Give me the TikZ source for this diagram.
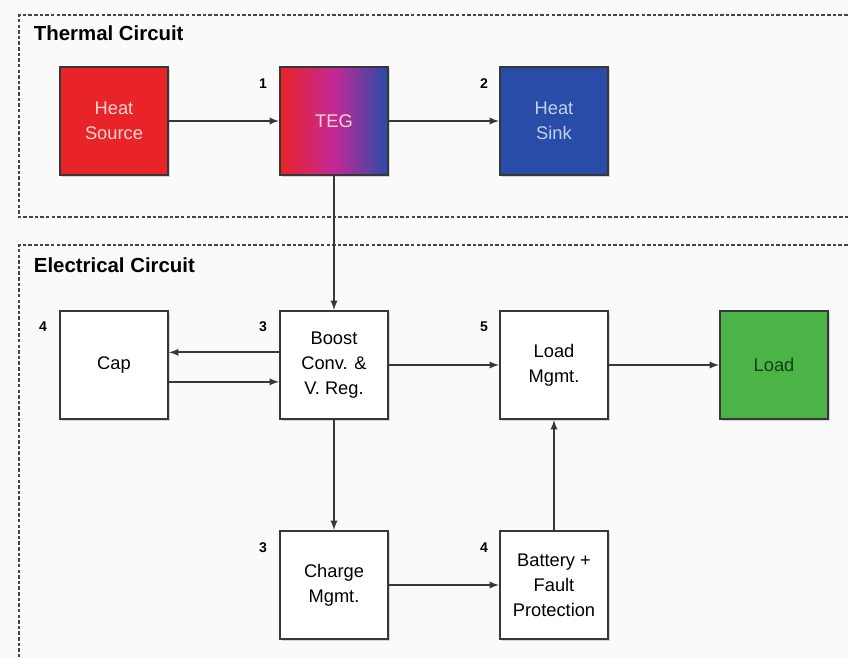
\documentclass[tikz,border=0pt]{standalone}
\usepackage{fontspec}
\setmainfont{Liberation Sans}
\usetikzlibrary{calc,shadows}
\definecolor{hotred}{RGB}{232,36,40}
\definecolor{hottext}{RGB}{255,214,210}
\definecolor{coldblue}{RGB}{40,76,168}
\definecolor{coldtext}{RGB}{196,208,240}
\definecolor{tegmag}{RGB}{196,40,150}
\definecolor{loadgreen}{RGB}{76,180,70}
\definecolor{loadtext}{RGB}{16,64,20}
\definecolor{edgegray}{RGB}{55,55,55}
\definecolor{framegray}{RGB}{70,70,70}

\begin{document}
\begin{tikzpicture}[x=0.025cm,y=-0.025cm,
  blk/.style={draw=edgegray, line width=1.4pt, fill=white, minimum width=2.7cm, minimum height=2.7cm, inner sep=0pt, align=center, font=\fontsize{13}{17.7}\selectfont, drop shadow={shadow xshift=1.5pt, shadow yshift=-1.5pt, opacity=0.3}},
  arr/.style={draw=edgegray, line width=1.3pt, -latex},
  num/.style={font=\bfseries\fontsize{10}{12}\selectfont},
  ttl/.style={anchor=west, font=\bfseries\fontsize{14.5}{16}\selectfont},
  frm/.style={draw=framegray, line width=0.9pt, dash pattern=on 2.5pt off 1.5pt}]
\useasboundingbox[fill=black!2] (0,0) rectangle (848,658);
%----------------frames----------
\draw[frm] (870,15) -| (19,217) -- (870,217);
\draw[frm] (870,245) -| (19,680);
\node[ttl] (thermal) at (29,33) {Thermal Circuit};
\node[ttl] (electrical) at (29,265) {Electrical Circuit};
%----------------thermal----------
\node[blk, fill=hotred, text=hottext] (src) at (114,121) {Heat\\Source};
\node[blk, left color=hotred, right color=coldblue, middle color=tegmag, text=hottext] (teg) at (334,121) {TEG};
\node[blk, fill=coldblue, text=coldtext] (sink) at (554,121) {Heat\\Sink};
\node[num] (n1) at (263,84) {1};
\node[num] (n2) at (484,84) {2};
%----------------electrical----------
\node[blk] (cap) at (114,365) {Cap};
\node[blk] (boost) at (334,365) {Boost\\Conv. \&\\V. Reg.};
\node[blk] (lmgmt) at (554,365) {Load\\Mgmt.};
\node[blk, fill=loadgreen, text=loadtext] (load) at (774,365) {Load};
\node[blk] (chg) at (334,585) {Charge\\Mgmt.};
\node[blk] (batt) at (554,585) {Battery +\\Fault\\Protection};
\node[num] (n4a) at (43,327) {4};
\node[num] (n3a) at (263,327) {3};
\node[num] (n5) at (484,327) {5};
\node[num] (n3b) at (263,548) {3};
\node[num] (n4b) at (484,548) {4};
%----------------arrows----------
\draw[arr] (src) -- (teg);
\draw[arr] (teg) -- (sink);
\draw[arr] (teg) -- (boost);
\draw[arr] ([yshift=9pt]boost.west) -- ([yshift=9pt]cap.east);
\draw[arr] ([yshift=-12pt]cap.east) -- ([yshift=-12pt]boost.west);
\draw[arr] (boost) -- (lmgmt);
\draw[arr] (lmgmt) -- (load);
\draw[arr] (boost) -- (chg);
\draw[arr] (chg) -- (batt);
\draw[arr] (batt) -- (lmgmt);
\end{tikzpicture}
\end{document}
